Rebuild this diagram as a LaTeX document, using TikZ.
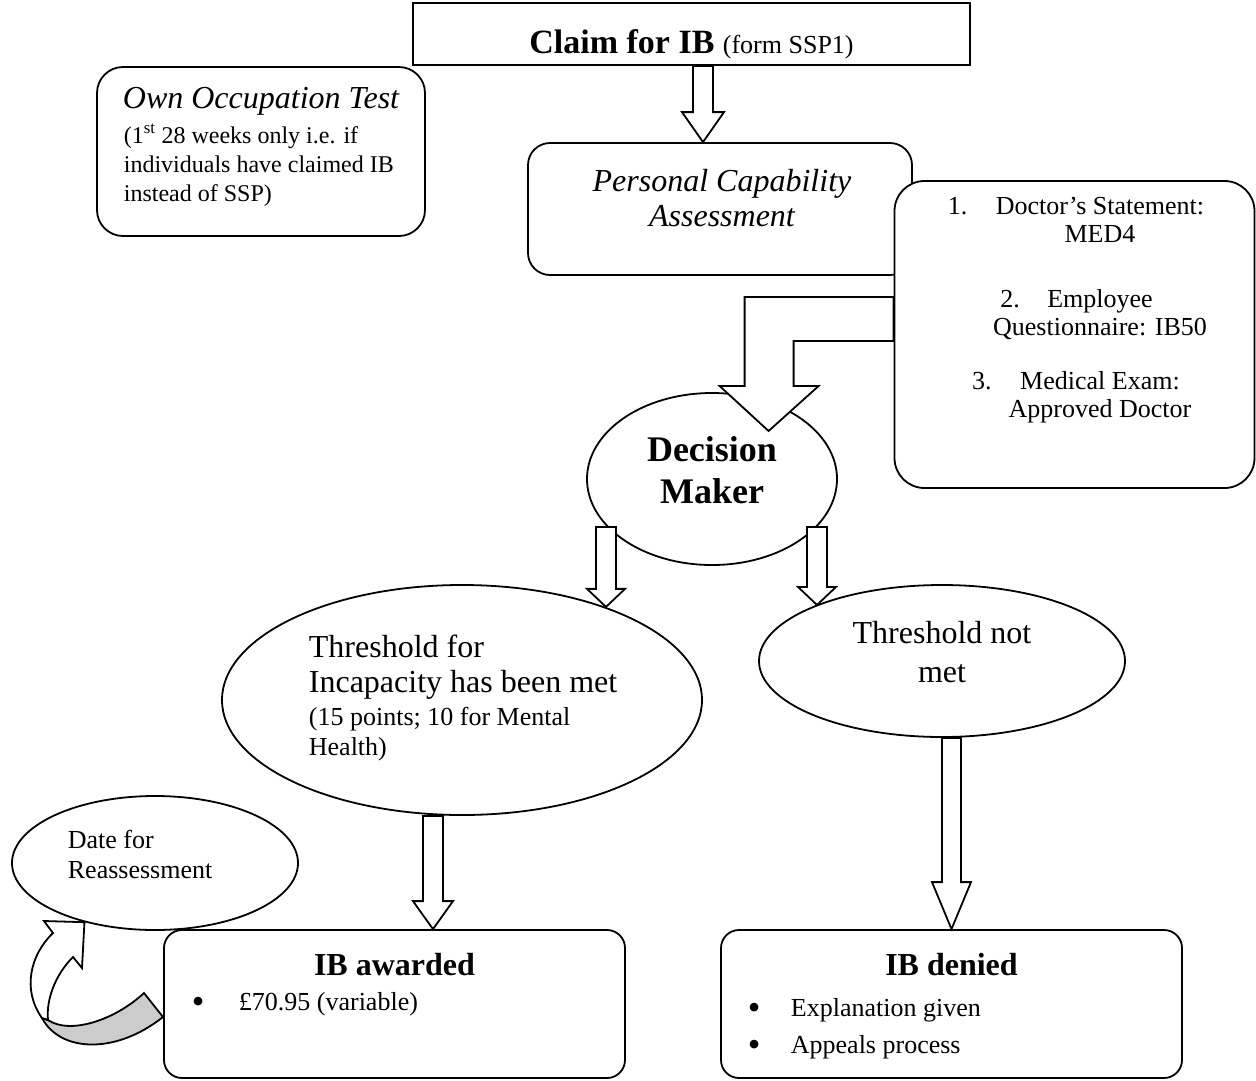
\documentclass[tikz,border=0pt]{standalone}
\usepackage{fontspec}
\setmainfont{Liberation Serif}
\usetikzlibrary{calc, shapes.geometric}

\newcommand{\bodysize}{\fontsize{32}{35}\selectfont}
\newcommand{\notesize}{\fontsize{26}{29}\selectfont}
\newcommand{\tinysize}{\fontsize{24}{29}\selectfont}
\newcommand{\headsize}{\fontsize{36}{42}\selectfont}
\newcommand{\dotmark}[1]{\llap{\makebox[#1][l]{\fontsize{36}{29}\selectfont\raisebox{-3pt}{\textbullet}}}}

% hollow arrow pointing down: from, to, half shaft, half head, head length
\newcommand{\blockdown}[5]{
  \draw [arrowbody] let \p1 = #1, \p2 = #2 in
    (\x1 - #3, \y1) -- (\x1 + #3, \y1) -- (\x1 + #3, \y2 + #5) -- (\x1 + #4, \y2 + #5)
    -- (\x1, \y2) -- (\x1 - #4, \y2 + #5) -- (\x1 - #3, \y2 + #5) -- cycle;
}

\begin{document}
\begin{tikzpicture}[x = 1pt, y = -1pt, line width = 1.8pt, line join = miter,
  every node/.style = {inner sep = 0pt},
  frame/.style = {draw, fill = white},
  box/.style = {draw, fill = white, rounded corners = #1}, box/.default = 20pt,
  oval/.style = {draw, fill = white, ellipse},
  arrowbody/.style = {draw, fill = white}]
  \useasboundingbox (0, 0) rectangle (1256, 1080);

  % claim and tests
  \node [frame, minimum width = 557, minimum height = 62] (claim) at (691.5, 34) {};
  \node [box = 26pt, minimum width = 328, minimum height = 169] (own) at (261, 151.5) {};
  \node [box = 22pt, minimum width = 384, minimum height = 132] (pca) at (720, 209) {};
  \node [box = 30pt, minimum width = 360, minimum height = 307] (docs) at (1074.5, 334.5) {};
  \node [oval, minimum width = 250, minimum height = 172] (maker) at (712, 479) {};
  \draw [arrowbody] (docs.west) ++(0, -37.5) -- ++(-149, 0) -- ++(0, 89) -- ++(-25, 0)
    -- ++(49, 45) -- ++(50, -45) -- ++(-25, 0) -- ++(0, -45) -- ++(100, 0) -- cycle;
  \blockdown{([xshift = 11.5pt]claim.south)}{(pca.north)}{10pt}{21pt}{30pt}

  % outcomes
  \node [oval, minimum width = 480, minimum height = 230] (met) at (462, 700) {};
  \node [oval, minimum width = 366, minimum height = 152] (notmet) at (942, 661) {};
  \node [oval, minimum width = 286, minimum height = 134] (review) at (155, 863) {};
  \node [box = 18pt, minimum width = 461, minimum height = 148] (awarded) at (394.5, 1004) {};
  \node [box = 18pt, minimum width = 461, minimum height = 148] (denied) at (951.5, 1004) {};

  \coordinate (metin) at (606, 527);
  \coordinate (notmetin) at (817, 527);
  \blockdown{(metin)}{(met.33)}{10pt}{19pt}{18pt}
  \blockdown{(notmetin)}{(notmet.156)}{10pt}{19pt}{18pt}
  \blockdown{([xshift = -29pt]met.south)}{(awarded.north)}{10pt}{20pt}{28pt}
  \blockdown{(notmet.south -| denied.north)}{(denied.north)}{9.5pt}{19.5pt}{47pt}

  % reassessment loop
  \draw [fill = black!20] (42, 1018) .. controls (60, 1052) and (115, 1055) .. (163, 1017)
    -- (144, 993) .. controls (115, 1020) and (70, 1035) .. (48, 1020) -- cycle;
  \draw [fill = white] (42, 1018) .. controls (22, 990) and (30, 955) .. (53, 933) -- (44, 921)
    -- (review.220.5) -- (82, 968) -- (73, 957) .. controls (55, 975) and (46, 1000) .. (48, 1020) -- cycle;

  % texts (multi-line nodes sit on their last baseline)
  \node [anchor = base] (claimtext) at (691.5, 53) {\bfseries\fontsize{34}{40}\selectfont Claim for IB \mdseries\notesize(form SSP1)};
  \node [anchor = base, font = \itshape\bodysize] (owntitle) at (261, 108) {Own Occupation Test};
  \node [anchor = base west, align = left, font = \tinysize] (ownnote) at (123, 201)
    {(1\textsuperscript{st} 28 weeks only i.e. if\\individuals have claimed IB\\instead of SSP)};
  \node [anchor = base, align = center, font = \itshape\bodysize] (pcatext) at (722, 226)
    {Personal Capability\\Assessment};
  \node [anchor = base, align = center, font = \fontsize{26}{28}\selectfont] (docstext) at (1100, 417)
    {\llap{\makebox[48pt][l]{1.}}Doctor's Statement:\\MED4\\[37pt]
     \llap{\makebox[47pt][l]{2.}}Employee\\Questionnaire: IB50\\[26pt]
     \llap{\makebox[48pt][l]{3.}}Medical Exam:\\Approved Doctor};
  \node [anchor = base, align = center, font = \headsize\bfseries] (makertext) at (712, 503) {Decision\\Maker};
  \node [anchor = base west, align = left, font = \bodysize] (mettext) at (308, 755)
    {Threshold for\\Incapacity has been met\\[-2pt]{\notesize (15 points; 10 for Mental}\\[-5pt]{\notesize Health)}};
  \node [anchor = base, align = center, font = \bodysize] (notmettext) at (942, 682) {Threshold not\\[4pt]met};
  \node [anchor = base west, align = left, font = \notesize] (reviewtext) at (67, 878) {Date for\\[1pt]Reassessment};
  \node [anchor = base, font = \bfseries\bodysize] (awardedtitle) at (394.5, 975) {IB awarded};
  \node [anchor = base west, font = \notesize] (awardedlist) at (238, 1010)
    {\dotmark{47pt}£70.95 (variable)};
  \node [anchor = base, font = \bfseries\bodysize] (deniedtitle) at (951.5, 975) {IB denied};
  \node [anchor = base west, align = left, font = \notesize] (deniedlist) at (790, 1053)
    {\dotmark{43pt}Explanation given\\[8pt]\dotmark{43pt}Appeals process};
\end{tikzpicture}
\end{document}
